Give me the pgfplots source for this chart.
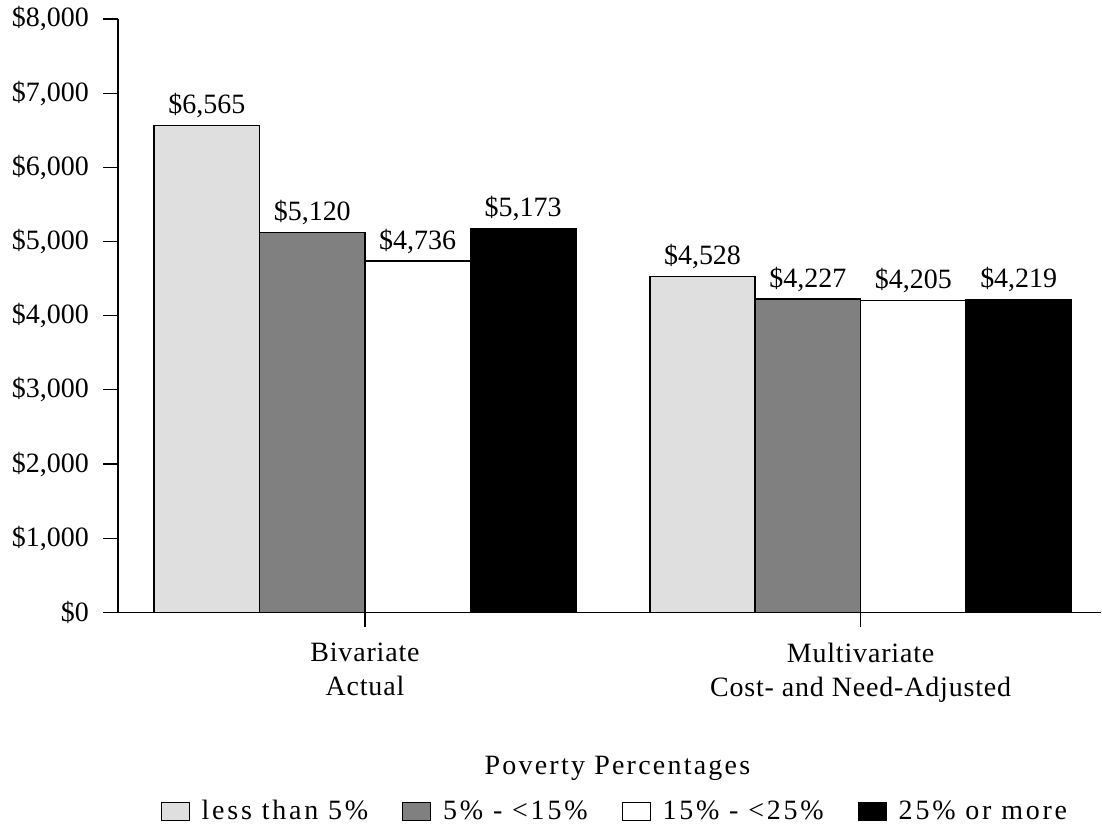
\documentclass[border=0pt]{standalone}
\usepackage{fontspec}
\setmainfont{Liberation Serif}
\usepackage{pgfplots}
\pgfplotsset{compat=1.18}
\newcommand\fsz{\fontsize{14}{17}\selectfont}
\definecolor{lightg}{HTML}{DFDFDF}
\definecolor{midg}{HTML}{808080}
\pgfplotsset{
  boxlegend/.style={legend image code/.code={\draw[##1, line width=0.5pt] (0pt,-4.5pt) rectangle (14pt,4.5pt);}},
}
\begin{document}
\begin{tikzpicture}
\begin{axis}[
  scale only axis, width=492pt, height=297pt,
  xmin=-0.4985, xmax=1.485, ymin=0, ymax=8000,
  axis x line*=bottom, axis y line*=left,
  axis line style={line width=0.9pt, black, -},
  ybar=0pt, bar width=52.75pt,
  xtick={0,1},
  xticklabels={{Bivariate\\Actual},{Multivariate\\Cost- and Need-Adjusted}},
  ytick={0,1000,...,8000},
  tick align=outside, major tick length=7.5pt,
  tick style={black, line width=0.6pt},
  minor tick num=0,
  xticklabel style={align=center, font=\fsz\addfontfeature{LetterSpace=3}, yshift=-4.5pt},
  yticklabel style={font=\fsz, xshift=-3.5pt},
  yticklabel={\$\pgfmathprintnumber[fixed,precision=0,1000 sep={,},assume math mode=true]{\tick}},
  nodes near coords={\$\pgfmathprintnumber[fixed,precision=0,1000 sep={,},assume math mode=true]{\pgfplotspointmeta}},
  every node near coord/.append style={font=\fsz, black},
  legend columns=4,
  legend style={at={(axis description cs:0.5066,-0.335)}, anchor=center, draw=none,
    font=\fsz\addfontfeature{LetterSpace=10},
    /tikz/every even column/.append style={column sep=15pt},
    /tikz/every odd column/.append style={column sep=4pt}},
  clip=false,
]
\addplot[fill=lightg, draw=black, line width=0.75pt, boxlegend] coordinates {(0,6565) (1,4528)};
\addplot[fill=midg, draw=black, line width=0.75pt, boxlegend] coordinates {(0,5120) (1,4227)};
\addplot[fill=white, draw=black, line width=0.75pt, boxlegend] coordinates {(0,4736) (1,4205)};
\addplot[fill=black, draw=black, line width=0.75pt, boxlegend] coordinates {(0,5173) (1,4219)};
\legend{less than 5\%, 5\% - <15\%, 15\% - <25\%, 25\% or more}
\end{axis}
\node[font=\fsz\addfontfeature{LetterSpace=8}] at ([shift={(250pt,-78pt)}]current axis.south west) {Poverty Percentages};
\path ([shift={(-59pt,-105pt)}]current axis.south west) ([shift={(0.5pt,8.5pt)}]current axis.north east);
\end{tikzpicture}
\end{document}
